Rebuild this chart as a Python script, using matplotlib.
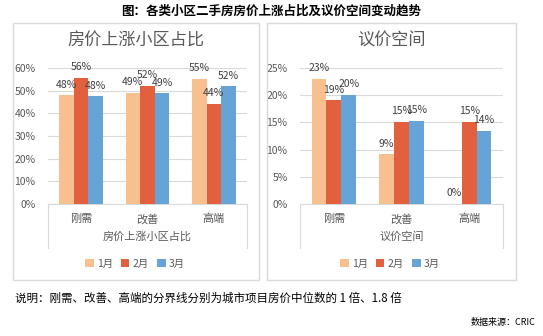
import matplotlib
matplotlib.use('Agg')
import matplotlib.pyplot as plt
from matplotlib.patches import Rectangle
from matplotlib.lines import Line2D
import numpy as np

plt.rcParams['font.family'] = ['Noto Sans CJK SC', 'DejaVu Sans']

categories = ['刚需', '改善', '高端']
months = ['1月', '2月', '3月']
colors = ['#F8C08F', '#E3603F', '#66A3D7']

# 房价上涨小区占比 (%)
rise_share = [
    [48.0, 49.0, 55.2],   # 1月
    [55.6, 52.1, 44.2],   # 2月
    [47.6, 48.9, 52.0],   # 3月
]
rise_labels = [['48%', '49%', '55%'], ['56%', '52%', '44%'], ['48%', '49%', '52%']]

# 议价空间 (%)
bargain = [
    [23.0, 9.1, 0.0],
    [19.1, 15.1, 15.1],
    [20.1, 15.3, 13.5],
]
bargain_labels = [['23%', '9%', '0%'], ['19%', '15%', '15%'], ['20%', '15%', '14%']]

W, H = 543, 336
fig = plt.figure(figsize=(W / 100, H / 100), dpi=100)
fig.patch.set_facecolor('white')


def px_axes(x0, y0, x1, y1):
    return fig.add_axes([x0 / W, 1 - y1 / H, (x1 - x0) / W, (y1 - y0) / H])


def panel(box, axbox, title, xtitle, data, labels, ymax, ystep):
    bx0, by0, bx1, by1 = box
    fig.patches.append(Rectangle((bx0 / W, 1 - by1 / H), (bx1 - bx0) / W, (by1 - by0) / H,
                                 transform=fig.transFigure, fill=False,
                                 edgecolor='#D9D9D9', lw=1))
    ax = px_axes(*axbox)
    x = np.arange(len(categories))
    w = 0.22
    for i, m in enumerate(months):
        ax.bar(x + (i - 1) * w, data[i], w, color=colors[i], label=m, zorder=3)
        for xi, v, lab in zip(x + (i - 1) * w, data[i], labels[i]):
            ax.annotate(lab, (xi, v), xytext=(0, 4), textcoords='offset points',
                        ha='center', va='bottom', fontsize=7.5, color='#404040', zorder=4)
    ax.set_xlim(-0.5, 2.5)
    ax.set_ylim(0, ymax)
    ticks = np.arange(0, ymax + 0.01, ystep)
    ax.set_yticks(ticks)
    ax.set_yticklabels([f'{int(t)}%' for t in ticks], fontsize=7.5, color='#595959')
    ax.set_xticks(x)
    ax.set_xticklabels(categories, fontsize=8, color='#595959')
    ax.tick_params(axis='x', length=0, pad=7)
    ax.tick_params(axis='y', length=0, pad=9)
    ax.grid(axis='y', color='#D9D9D9', lw=0.8, zorder=0)
    for s in ['top', 'right', 'left']:
        ax.spines[s].set_visible(False)
    ax.spines['bottom'].set_color('#D9D9D9')
    # category frame below the axis
    for xf in (0, 1):
        ax.add_line(Line2D([xf, xf], [0, -44 / (axbox[3] - axbox[1])], transform=ax.transAxes,
                           color='#D9D9D9', lw=0.8, clip_on=False))
    ax.set_xlabel(xtitle, fontsize=8, color='#595959', labelpad=5)
    fig.text((bx0 + bx1) / 2 / W, 1 - 41 / H, title,
             ha='center', va='center', fontsize=12.3, color='#595959')
    return ax


ax1 = panel((13, 23, 259, 280), (48, 68, 247, 204), '房价上涨小区占比', '房价上涨小区占比',
            rise_share, rise_labels, 60, 10)
ax2 = panel((267, 23, 516, 280), (300, 68, 503, 204), '议价空间', '议价空间',
            bargain, bargain_labels, 25, 5)

for ax, lx in ((ax1, 135), (ax2, 390)):
    ax.legend(loc='center', bbox_to_anchor=(lx / W, 1 - 264 / H), bbox_transform=fig.transFigure,
              ncol=3, frameon=False, fontsize=7.5, handlelength=0.8, handleheight=0.8,
              handletextpad=0.3, columnspacing=0.8, labelcolor='#595959')

fig.text(271 / W, 1 - 11 / H, '图：各类小区二手房房价上涨占比及议价空间变动趋势',
         ha='center', va='center', fontsize=9, fontweight='bold', color='black')
fig.text(15 / W, 1 - 298 / H, '说明：刚需、改善、高端的分界线分别为城市项目房价中位数的 1 倍、1.8 倍',
         ha='left', va='center', fontsize=8.3, color='black')
fig.text(536 / W, 1 - 322 / H, '数据来源：CRIC', ha='right', va='center', fontsize=6.5, color='black')

fig.savefig('out.png', dpi=100)
